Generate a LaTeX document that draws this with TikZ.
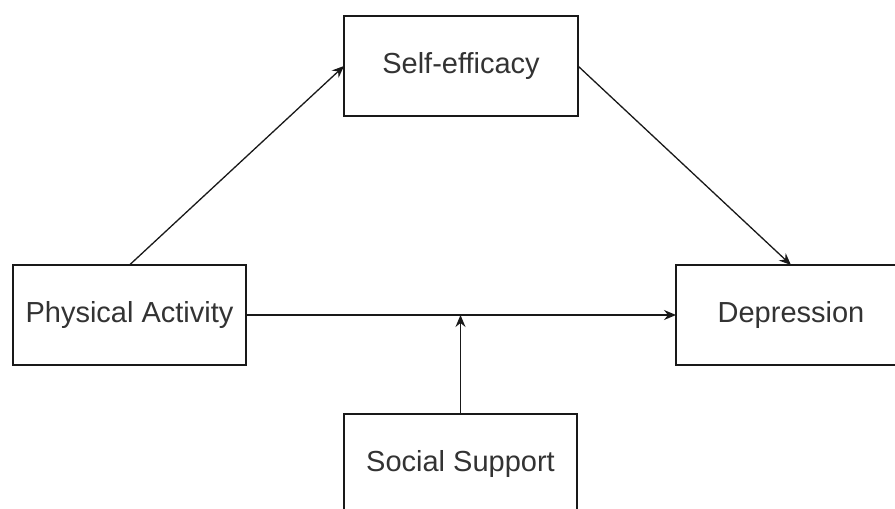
\documentclass[tikz,border=0pt]{standalone}
\usepackage{fontspec}
\setmainfont{Liberation Sans}
\usetikzlibrary{arrows.meta}
\usetikzlibrary{calc}
\usetikzlibrary{positioning}
\tikzset{every picture/.style={line width=1pt}}

\begin{document}
\begin{tikzpicture}[x=1pt,y=-1pt,
	vb/.style={draw=black!90, line width=2.5pt, inner sep=0pt, outer sep=0pt, minimum height=100pt, text=black!80, font=\fontsize{29}{34}\selectfont},
	pf/.style={draw=black!90, line width=1.3pt, -{Stealth[length=12pt,width=10pt,inset=4pt]}}]
\useasboundingbox (0,0) rectangle (895,509);
\clip (0,0) rectangle (895,509);
\node (pa) at (129.5,315) [vb,minimum width=233pt] {Physical Activity};
\node (se) at (461,66) [vb,minimum width=234pt] {Self-efficacy};
\node (dep) at (791,315) [vb,minimum width=230pt] {Depression};
\node (ss) at (460.5,464) [vb,minimum width=233pt] {Social Support};
\coordinate (mod) at (ss.north |- pa.east);
\draw[pf] (pa.north) -- (se.west);
\draw[pf] (se.east) -- (dep.north);
\draw[pf] (pa.east) -- (dep.west);
\draw[pf] (ss.north) -- (mod);
\end{tikzpicture}
\end{document}
